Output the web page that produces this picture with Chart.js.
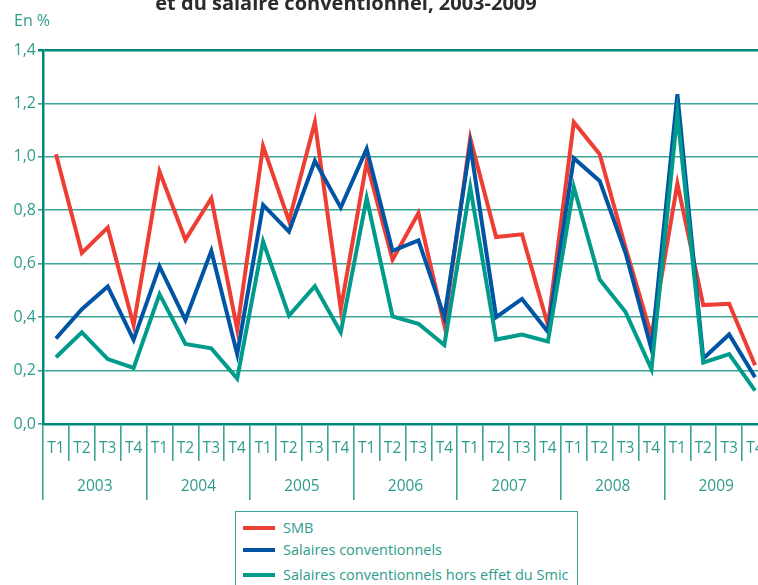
<!DOCTYPE html>
<html>
<head>
<meta charset="utf-8">
<script src="https://cdn.jsdelivr.net/npm/chart.js@4/dist/chart.umd.min.js"></script>
<style>
  body { margin: 0; width: 758px; height: 585px; overflow: hidden; background: #fff; font-family: "Open Sans", sans-serif; }
  #wrap { position: absolute; left: 0; top: 0; width: 772px; height: 500px; }
  #legend { position: absolute; left: 235px; top: 511px; width: 343px; height: 90px; border: 1.5px solid #3aa597; box-sizing: border-box; }
  .item { position: absolute; left: 0; height: 20px; color: #2e9c8c; font-size: 14.5px; line-height: 20px; white-space: nowrap; }
  .item span.sw { position: absolute; left: 7px; top: 8px; width: 32px; height: 4px; }
  .item span.tx { position: absolute; left: 47px; top: 0; }
</style>
</head>
<body>
<div id="wrap"><canvas id="chart"></canvas></div>
<div id="legend"></div>
<script>
// trimestres et années
var quarters = ['T1', 'T2', 'T3', 'T4', 'T1', 'T2', 'T3', 'T4', 'T1', 'T2', 'T3', 'T4', 'T1', 'T2',
  'T3', 'T4', 'T1', 'T2', 'T3', 'T4', 'T1', 'T2', 'T3', 'T4', 'T1', 'T2', 'T3', 'T4'];
var years = ['2003', '2004', '2005', '2006', '2007', '2008', '2009'];

// évolution trimestrielle, en %
var smb = [1.01, 0.64, 0.735, 0.37, 0.945, 0.69, 0.845, 0.355,
  1.04, 0.76, 1.13, 0.43, 0.98, 0.615, 0.79, 0.37,
  1.07, 0.70, 0.71, 0.37, 1.13, 1.01, 0.66, 0.33,
  0.90, 0.445, 0.45, 0.22];
var salConv = [0.32, 0.43, 0.515, 0.315, 0.59, 0.39, 0.648, 0.262,
  0.82, 0.72, 0.985, 0.81, 1.03, 0.648, 0.687, 0.40,
  1.045, 0.40, 0.468, 0.345, 0.995, 0.91, 0.64, 0.28,
  1.235, 0.245, 0.335, 0.175];
var salHorsSmic = [0.25, 0.343, 0.243, 0.21, 0.486, 0.30, 0.283, 0.17,
  0.683, 0.406, 0.516, 0.343, 0.846, 0.403, 0.375, 0.296,
  0.887, 0.316, 0.335, 0.309, 0.887, 0.541, 0.419, 0.205,
  1.16, 0.23, 0.262, 0.125];

var teal = '#3aa597';
var darkTeal = '#00897b';
var txt = '#2e9c8c';

var textPlugin = {
  id: 'textPlugin',
  afterDraw: function (chart) {
    var ctx = chart.ctx;
    ctx.save();
    ctx.fillStyle = '#2b2b2b';
    ctx.font = 'bold 20px "Open Sans"';
    ctx.textAlign = 'center';
    ctx.textBaseline = 'alphabetic';
    ctx.fillText('et du salaire conventionnel, 2003-2009', 346, 10);
    ctx.fillStyle = txt;
    ctx.font = '16px "Open Sans"';
    ctx.textAlign = 'left';
    ctx.fillText('En %', 14, 26);
    ctx.restore();
  }
};

var chart = new Chart(document.getElementById('chart'), {
  type: 'line',
  data: {
    labels: quarters,
    datasets: [
      { label: 'SMB', data: smb, borderColor: '#ee3e34', order: 3 },
      { label: 'Salaires conventionnels', data: salConv, borderColor: '#0054a4', order: 2 },
      { label: 'Salaires conventionnels hors effet du Smic', data: salHorsSmic, borderColor: '#009b8a', order: 1 }
    ]
  },
  options: {
    responsive: true,
    maintainAspectRatio: false,
    animation: false,
    layout: { padding: { top: 50, left: 0, right: 4, bottom: 0 } },
    elements: {
      line: { borderWidth: 4, tension: 0, fill: false, borderJoinStyle: 'miter' },
      point: { radius: 0, hoverRadius: 0 }
    },
    plugins: { legend: { display: false }, tooltip: { enabled: false } },
    scales: {
      y: {
        min: 0,
        max: 1.4,
        ticks: {
          stepSize: 0.2,
          padding: 2,
          color: txt,
          font: { family: 'Open Sans', size: 16 },
          callback: function (v) { return v.toFixed(1).replace('.', ','); }
        },
        grid: {
          tickLength: 5,
          color: function (c) { return c.tick && c.tick.value >= 1.39 ? darkTeal : teal; },
          lineWidth: function (c) { return c.tick && c.tick.value >= 1.39 ? 2.5 : 1.6; }
        },
        border: { color: darkTeal, width: 2.5 },
        afterFit: function (s) { s.width = 43; }
      },
      x: {
        offset: true,
        weight: 0,
        ticks: { autoSkip: false, maxRotation: 0, padding: -22, color: txt, font: { family: 'Open Sans', size: 15.5 } },
        grid: { offset: true, drawOnChartArea: false, tickLength: 37, color: teal, lineWidth: 1.6 },
        border: { color: darkTeal, width: 2.5 },
        afterFit: function (s) { s.height = 37; }
      },
      x2: {
        type: 'category',
        labels: years,
        position: 'bottom',
        offset: true,
        weight: 1,
        ticks: { autoSkip: false, maxRotation: 0, padding: -23, color: txt, font: { family: 'Open Sans', size: 15.5 } },
        grid: { offset: true, drawOnChartArea: false, tickLength: 39, color: teal, lineWidth: 1.6 },
        border: { display: false },
        afterFit: function (s) { s.height = 39; }
      }
    }
  },
  plugins: [textPlugin]
});

// légende
var legendEl = document.getElementById('legend');
var rowTops = [6, 28, 53];
chart.data.datasets.forEach(function (ds, i) {
  var row = document.createElement('div');
  row.className = 'item';
  row.style.top = rowTops[i] + 'px';
  row.innerHTML = '<span class="sw" style="background:' + ds.borderColor + '"></span><span class="tx"></span>';
  row.querySelector('.tx').textContent = ds.label;
  legendEl.appendChild(row);
});
</script>
</body>
</html>
